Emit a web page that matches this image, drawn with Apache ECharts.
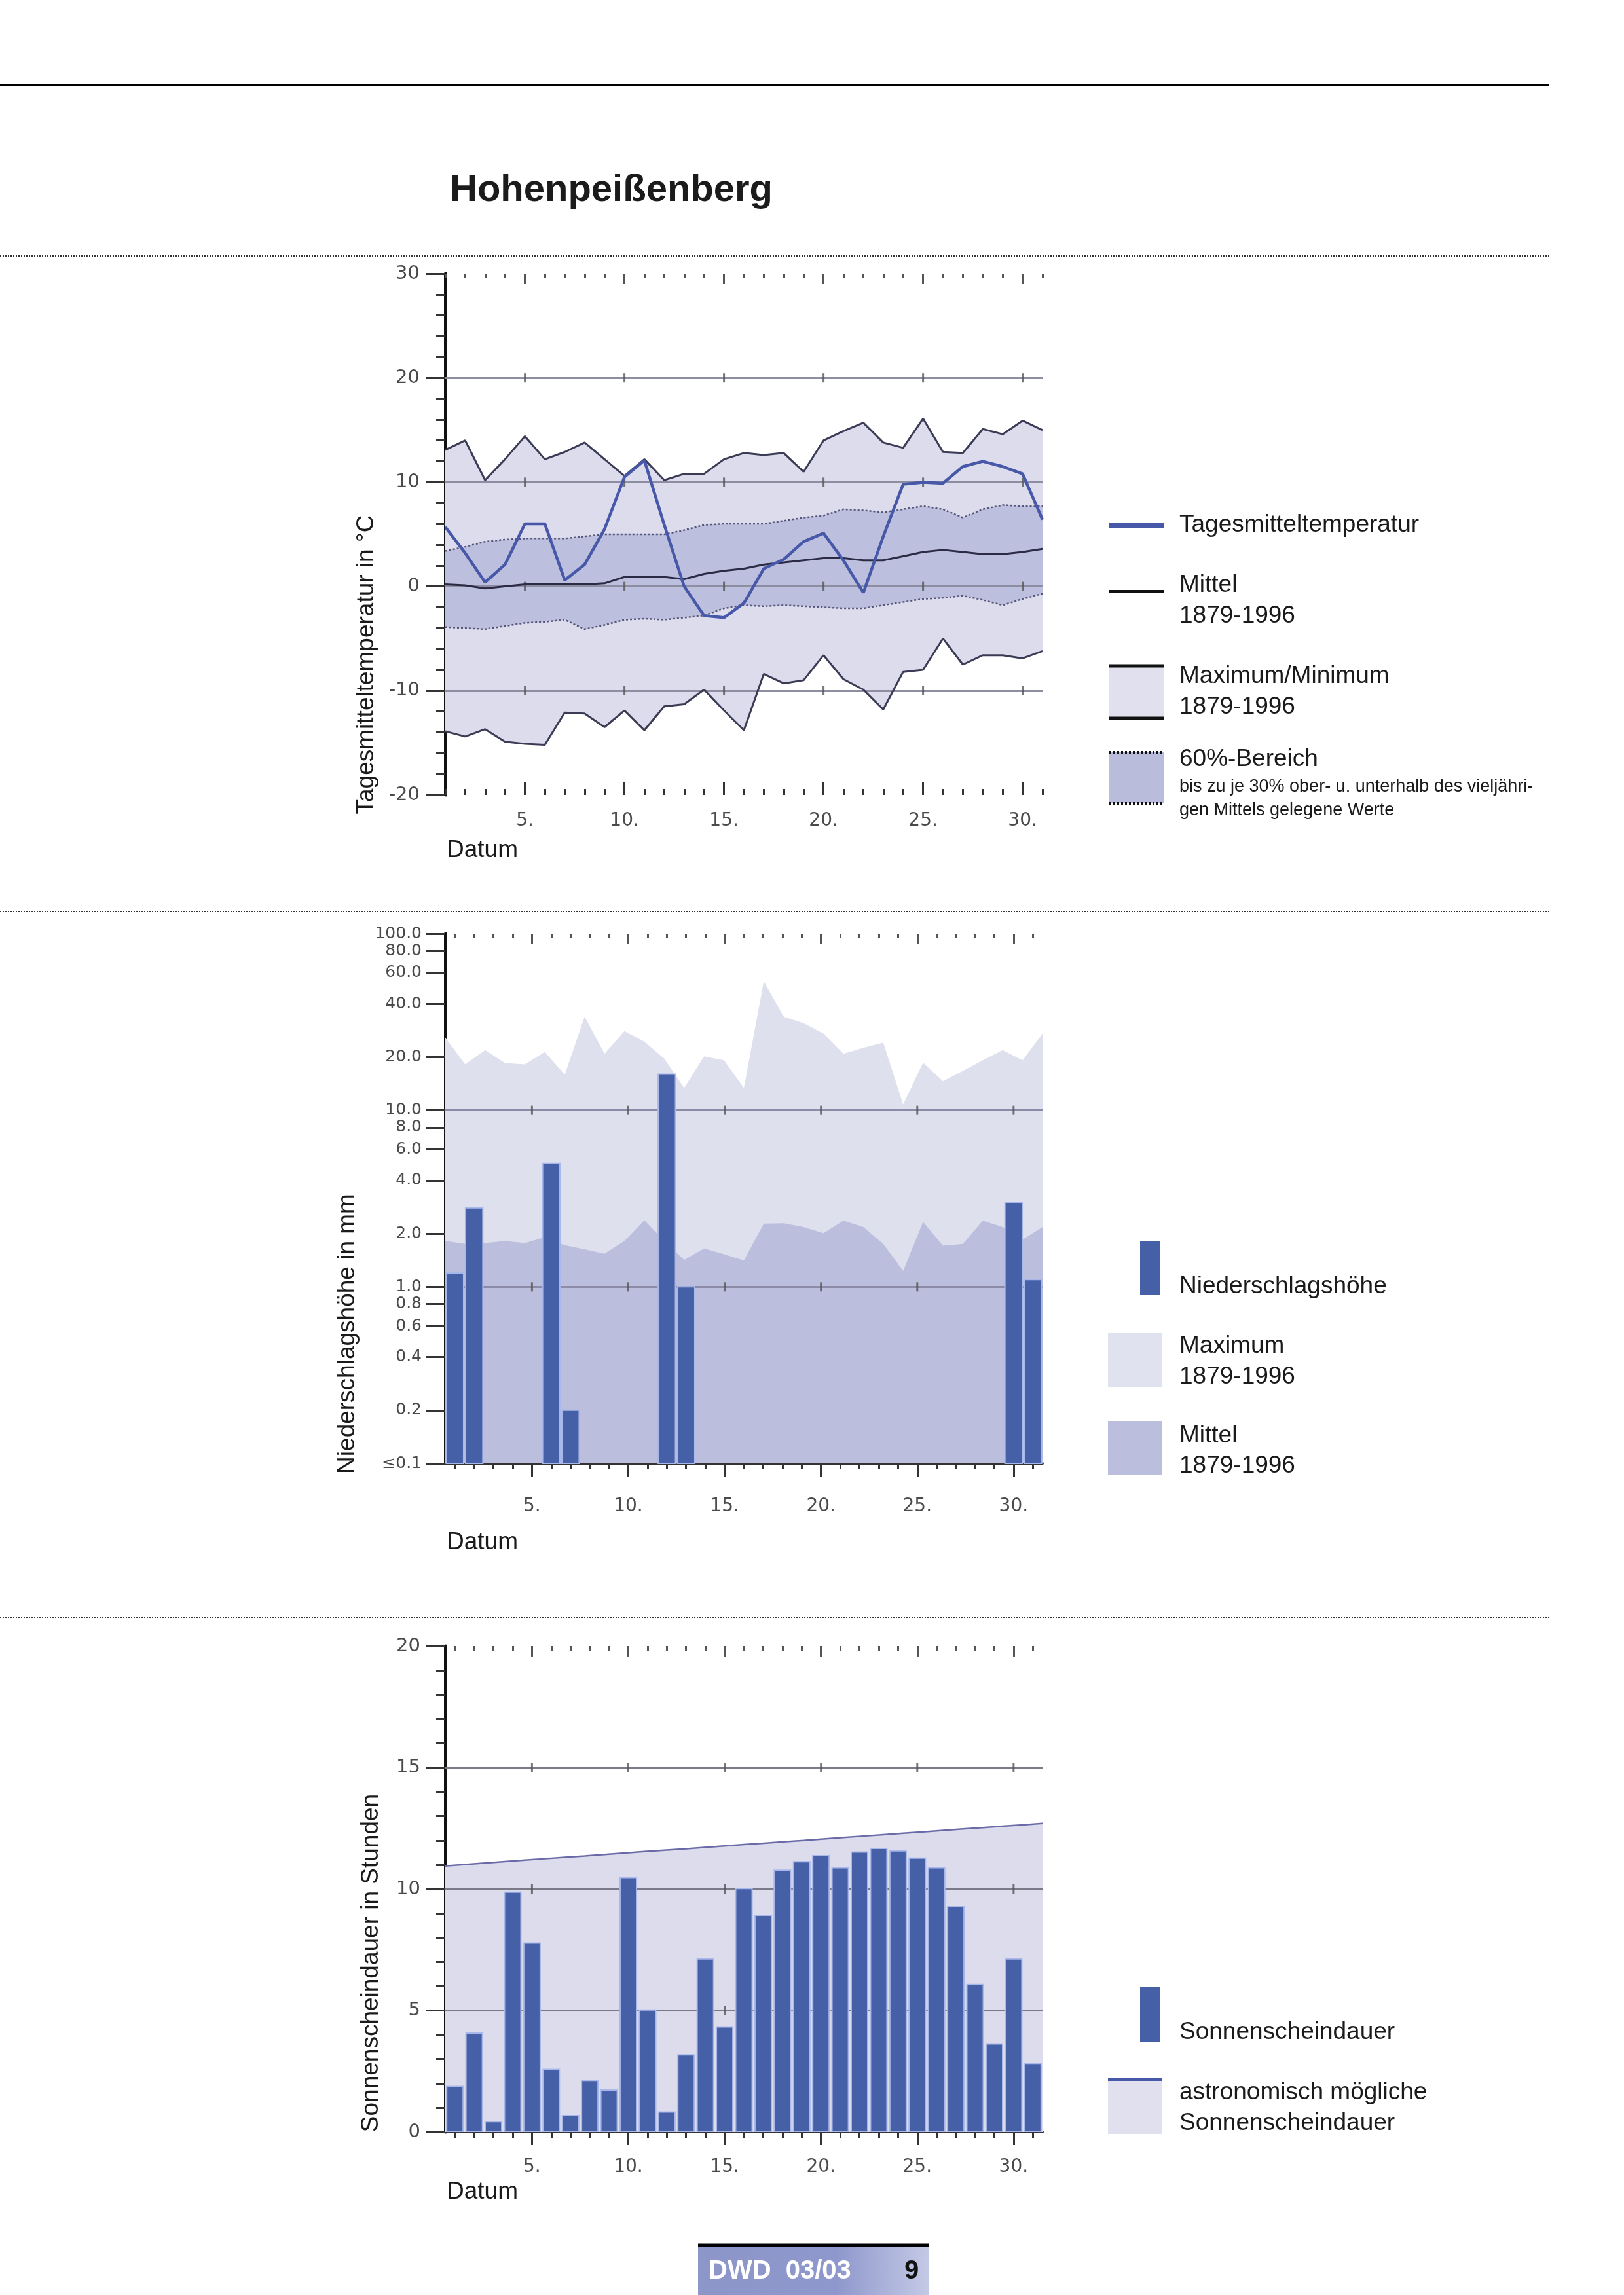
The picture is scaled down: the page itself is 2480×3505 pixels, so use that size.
<!DOCTYPE html>
<html>
<head>
<meta charset="utf-8">
<title>Hohenpeißenberg</title>
<script src="https://cdn.jsdelivr.net/npm/echarts@6.0.0/dist/echarts.min.js"></script>
<style>
html,body{margin:0;padding:0;background:#ffffff;}
#chart{width:2480px;height:3505px;}
</style>
</head>
<body>
<div id="chart"></div>
<script>
// ---------------- data ----------------
const days = ['1','2','3','4','5','6','7','8','9','10','11','12','13','14','15','16','17','18','19','20','21','22','23','24','25','26','27','28','29','30','31'];
const dayTickLabels = ['5','10','15','20','25','30'];

// Temperature (°C)
const tempTicks = [-20, -10, 0, 10, 20, 30];
const tempGridLines = [20, 10, 0, -10];
const tempDaily = [5.7,3.2,0.4,2.1,6.0,6.0,0.6,2.1,5.5,10.5,12.1,5.9,0.0,-2.8,-3.0,-1.6,1.7,2.6,4.3,5.1,2.5,-0.6,4.8,9.8,10.0,9.9,11.5,12.0,11.5,10.8,6.4];
const tempMax   = [13.1,14.0,10.2,12.2,14.4,12.2,12.9,13.8,12.2,10.6,12.2,10.2,10.8,10.8,12.2,12.8,12.6,12.8,11.0,14.0,14.9,15.7,13.8,13.3,16.1,12.9,12.8,15.1,14.6,15.9,15.0];
const tempMin   = [-13.9,-14.4,-13.7,-14.9,-15.1,-15.2,-12.1,-12.2,-13.5,-11.9,-13.8,-11.5,-11.3,-9.9,-11.9,-13.8,-8.4,-9.3,-9.0,-6.6,-8.9,-9.9,-11.8,-8.2,-8.0,-5.0,-7.5,-6.6,-6.6,-6.9,-6.2];
const tempMittel = [0.2,0.1,-0.2,0.0,0.2,0.2,0.2,0.2,0.3,0.9,0.9,0.9,0.7,1.2,1.5,1.7,2.1,2.3,2.5,2.7,2.7,2.5,2.5,2.9,3.3,3.5,3.3,3.1,3.1,3.3,3.6];
const tempUpper60 = [3.4,3.8,4.3,4.5,4.6,4.6,4.6,4.8,5.0,5.0,5.0,5.0,5.4,5.9,6.0,6.0,6.0,6.3,6.6,6.8,7.4,7.3,7.1,7.4,7.7,7.4,6.6,7.4,7.8,7.7,7.7];
const tempLower60 = [-3.9,-4.0,-4.1,-3.8,-3.5,-3.4,-3.2,-4.1,-3.7,-3.2,-3.1,-3.2,-3.0,-2.8,-2.1,-1.8,-1.9,-1.8,-1.9,-2.0,-2.1,-2.1,-1.8,-1.5,-1.2,-1.1,-0.9,-1.3,-1.8,-1.2,-0.7];

// Precipitation (mm)
const precipTicks = [0.1,0.2,0.4,0.6,0.8,1,2,4,6,8,10,20,40,60,80,100];
const precipGridLines = [10, 1];
const precipAmount = [1.2,2.8,null,null,null,5.0,0.2,null,null,null,null,16,1.0,null,null,null,null,null,null,null,null,null,null,null,null,null,null,null,null,3.0,1.1];
const precipMax  = [25.8,18.2,21.9,18.5,18.2,21.4,15.9,33.9,20.9,28.1,24.5,19.6,13.4,20.2,19.2,13.4,53.7,33.9,31.2,27.2,20.9,22.6,24.2,10.8,18.6,14.6,16.7,19.2,21.9,19.2,27.2];
const precipMean = [1.82,1.75,1.77,1.82,1.77,1.91,1.72,1.63,1.54,1.82,2.38,1.82,1.42,1.65,1.53,1.41,2.28,2.29,2.18,2.01,2.37,2.18,1.75,1.23,2.33,1.71,1.75,2.37,2.18,1.85,2.18];

// Sunshine (hours)
const sunTicks = [0, 5, 10, 15, 20];
const sunGridLines = [15, 10, 5];
const sunshine = [1.9,4.1,0.45,9.9,7.8,2.6,0.7,2.15,1.75,10.5,5.05,0.85,3.2,7.15,4.35,10.05,8.95,10.8,11.15,11.4,10.9,11.55,11.7,11.6,11.3,10.9,9.3,6.1,3.65,7.15,2.85];
const sunAstro = [10.95,11.01,11.07,11.13,11.19,11.25,11.31,11.36,11.42,11.48,11.54,11.6,11.65,11.71,11.77,11.83,11.89,11.95,12.0,12.06,12.12,12.18,12.24,12.3,12.35,12.41,12.47,12.53,12.59,12.64,12.7];

// ---------------- styling ----------------
const TXT = 'Liberation Sans, Arial, Helvetica, sans-serif';
const TICKF = 'DejaVu Sans, Liberation Sans, sans-serif';
const LBL = '#4a4a4a';
const BAR = '#4560a6';
const BAR_EDGE = '#a9b8ea';
const LIGHT = '#dcdcec';
const MID = '#bcbfdd';

const isMajor = (i, v) => dayTickLabels.indexOf(String(v)) >= 0;

function dayAxes(grid, gap, bottomInside, lineShown, labelMargin) {
  const base = {type: 'category', gridIndex: grid, data: days, boundaryGap: gap,
    splitLine: {show: false}, axisLine: {show: false, onZero: false}, axisLabel: {show: false}};
  return [
    Object.assign({}, base, {position: 'bottom',
      axisLine: {show: lineShown, onZero: false, lineStyle: {color: '#333', width: 4}},
      axisTick: {show: true, inside: bottomInside, length: 20, alignWithLabel: true, interval: isMajor, lineStyle: {color: '#333', width: 3}},
      axisLabel: {show: true, interval: isMajor, formatter: v => v + '.', margin: labelMargin, fontSize: 28, fontFamily: TICKF, color: LBL}}),
    Object.assign({}, base, {position: 'bottom',
      axisTick: {show: true, inside: bottomInside, length: 9, alignWithLabel: true, interval: 0, lineStyle: {color: '#333', width: 3}}}),
    Object.assign({}, base, {position: 'top',
      axisTick: {show: true, inside: true, length: 16, alignWithLabel: true, interval: isMajor, lineStyle: {color: '#555', width: 3}}}),
    Object.assign({}, base, {position: 'top',
      axisTick: {show: true, inside: true, length: 7, alignWithLabel: true, interval: 0, lineStyle: {color: '#555', width: 3}}})
  ];
}

const xAxes = [].concat(
  dayAxes(0, false, true, false, 26),
  dayAxes(1, true, false, true, 52),
  [{type: 'category', gridIndex: 1, data: days, boundaryGap: false, show: false, axisLine: {onZero: false}}],
  dayAxes(2, true, false, true, 40),
  [{type: 'category', gridIndex: 2, data: days, boundaryGap: false, show: false, axisLine: {onZero: false}}]
);
// indices: grid0 -> 0..3 ; grid1 -> 4..7, area 8 ; grid2 -> 9..12, area 13

const yLine = {show: true, onZero: false, lineStyle: {color: '#111', width: 5}};
const yAxes = [
  {type: 'value', gridIndex: 0, min: -20, max: 30, interval: 10,
    axisLine: yLine,
    axisTick: {show: true, length: 30, lineStyle: {color: '#333', width: 3}},
    minorTick: {show: true, splitNumber: 5, length: 14, lineStyle: {color: '#333', width: 3}},
    axisLabel: {margin: 39, fontSize: 29, fontFamily: TICKF, color: LBL},
    splitLine: {show: false}},
  {type: 'log', gridIndex: 1, min: 0.1, max: 100, logBase: 10,
    axisLine: yLine,
    axisTick: {show: true, length: 30, customValues: precipTicks, lineStyle: {color: '#333', width: 3}},
    minorTick: {show: false},
    axisLabel: {margin: 36, fontSize: 25, fontFamily: TICKF, color: LBL, customValues: precipTicks,
      formatter: v => (v < 0.15 ? '\u22640.1' : Number(v).toFixed(1))},
    splitLine: {show: false}},
  {type: 'value', gridIndex: 2, min: 0, max: 20, interval: 5,
    axisLine: yLine,
    axisTick: {show: true, length: 30, lineStyle: {color: '#333', width: 3}},
    minorTick: {show: true, splitNumber: 5, length: 14, lineStyle: {color: '#333', width: 3}},
    axisLabel: {margin: 38, fontSize: 29, fontFamily: TICKF, color: LBL},
    splitLine: {show: false}}
];

const diff = (a, b) => a.map((v, i) => +(v - b[i]).toFixed(2));
const crossData = (lines) => lines.reduce((acc, g) => acc.concat(dayTickLabels.map(d => [d, g])), []);
const gridMarkLine = (lines, color) => ({
  silent: true, symbol: 'none', label: {show: false},
  lineStyle: {color: color, width: 3, type: 'solid'},
  data: lines.map(g => ({yAxis: g}))
});
const hidden = {opacity: 0};

const series = [
  // ---- chart 1: temperature ----
  {type: 'line', name: 'minBase', xAxisIndex: 0, yAxisIndex: 0, data: tempMin, stack: 'mm', stackStrategy: 'all',
    symbol: 'none', lineStyle: hidden, silent: true, z: 1},
  {type: 'line', name: 'Maximum/Minimum', xAxisIndex: 0, yAxisIndex: 0, data: diff(tempMax, tempMin), stack: 'mm', stackStrategy: 'all',
    symbol: 'none', lineStyle: hidden, areaStyle: {color: LIGHT, opacity: 1}, silent: true, z: 1},
  {type: 'line', name: 'low60Base', xAxisIndex: 0, yAxisIndex: 0, data: tempLower60, stack: 'b60', stackStrategy: 'all',
    symbol: 'none', lineStyle: hidden, silent: true, z: 1},
  {type: 'line', name: '60%-Bereich', xAxisIndex: 0, yAxisIndex: 0, data: diff(tempUpper60, tempLower60), stack: 'b60', stackStrategy: 'all',
    symbol: 'none', lineStyle: hidden, areaStyle: {color: MID, opacity: 1}, silent: true, z: 1,
    markLine: gridMarkLine(tempGridLines, '#8e8ea2')},
  {type: 'scatter', xAxisIndex: 0, yAxisIndex: 0, data: crossData(tempGridLines), symbol: 'rect', symbolSize: [3, 14],
    itemStyle: {color: '#555'}, silent: true, z: 5},
  {type: 'line', xAxisIndex: 0, yAxisIndex: 0, data: tempUpper60, symbol: 'none', lineStyle: {color: '#55557a', width: 2.5, type: [3, 3]}, z: 6},
  {type: 'line', xAxisIndex: 0, yAxisIndex: 0, data: tempLower60, symbol: 'none', lineStyle: {color: '#55557a', width: 2.5, type: [3, 3]}, z: 6},
  {type: 'line', name: 'Mittel', xAxisIndex: 0, yAxisIndex: 0, data: tempMittel, symbol: 'none', lineStyle: {color: '#2b2b45', width: 3}, z: 6},
  {type: 'line', name: 'Maximum', xAxisIndex: 0, yAxisIndex: 0, data: tempMax, symbol: 'none', lineStyle: {color: '#3b3b55', width: 3}, z: 6},
  {type: 'line', name: 'Minimum', xAxisIndex: 0, yAxisIndex: 0, data: tempMin, symbol: 'none', lineStyle: {color: '#3b3b55', width: 3}, z: 6},
  {type: 'line', name: 'Tagesmitteltemperatur', xAxisIndex: 0, yAxisIndex: 0, data: tempDaily, symbol: 'none', lineStyle: {color: '#4758a8', width: 4.5}, z: 7},

  // ---- chart 2: precipitation ----
  {type: 'line', name: 'Maximum', xAxisIndex: 8, yAxisIndex: 1, data: precipMax, symbol: 'none', lineStyle: hidden,
    areaStyle: {color: '#dfe0ee', opacity: 1, origin: 'start'}, silent: true, z: 1},
  {type: 'line', name: 'Mittel', xAxisIndex: 8, yAxisIndex: 1, data: precipMean, symbol: 'none', lineStyle: hidden,
    areaStyle: {color: '#bbbedc', opacity: 1, origin: 'start'}, silent: true, z: 2,
    markLine: gridMarkLine(precipGridLines, '#8c8ca8')},
  {type: 'scatter', xAxisIndex: 4, yAxisIndex: 1, data: crossData(precipGridLines), symbol: 'rect', symbolSize: [3, 14],
    itemStyle: {color: '#555'}, silent: true, z: 5},
  {type: 'custom', name: 'Niederschlagshöhe', xAxisIndex: 4, yAxisIndex: 1, z: 6,
    data: precipAmount.map((v, i) => [i, v]).filter(d => d[1] != null),
    renderItem: function (params, api) {
      const idx = api.value(0), v = api.value(1);
      const top = api.coord([idx, v]);
      const bottom = api.coord([idx, 0.1]);
      const w = api.size([1, 1])[0];
      return {type: 'rect',
        shape: {x: top[0] - w / 2 + 1.5, y: top[1], width: w - 3, height: bottom[1] - top[1]},
        style: {fill: BAR, stroke: BAR_EDGE, lineWidth: 2}};
    }},

  // ---- chart 3: sunshine ----
  {type: 'line', name: 'astronomisch mögliche Sonnenscheindauer', xAxisIndex: 13, yAxisIndex: 2, data: sunAstro, symbol: 'none',
    lineStyle: {color: '#6a6aa8', width: 2.5}, areaStyle: {color: LIGHT, opacity: 1, origin: 'start'}, silent: true, z: 1,
    markLine: gridMarkLine(sunGridLines, '#7a7a88')},
  {type: 'scatter', xAxisIndex: 9, yAxisIndex: 2, data: crossData(sunGridLines), symbol: 'rect', symbolSize: [3, 14],
    itemStyle: {color: '#555'}, silent: true, z: 5},
  {type: 'bar', name: 'Sonnenscheindauer', xAxisIndex: 9, yAxisIndex: 2, data: sunshine, barCategoryGap: '8%',
    itemStyle: {color: BAR, borderColor: BAR_EDGE, borderWidth: 2}, z: 6}
];

// ---------------- decorations / legends ----------------
function txt(x, y, s, size, extra) {
  return Object.assign({type: 'text', x: x, y: y, silent: true,
    style: {text: s, fontSize: size, fontFamily: TXT, fill: '#1a1a1a', textAlign: 'left', textVerticalAlign: 'middle'}}, extra || {});
}
function vtxt(x, y, s) {
  return {type: 'text', x: x, y: y, rotation: Math.PI / 2, silent: true,
    style: {text: s, fontSize: 37, fontFamily: TXT, fill: '#1a1a1a', textAlign: 'center', textVerticalAlign: 'middle'}};
}
function hline(x1, x2, y, w, color, dash) {
  return {type: 'line', silent: true, shape: {x1: x1, y1: y, x2: x2, y2: y},
    style: {stroke: color, lineWidth: w, lineDash: dash || null}};
}
function box(x, y, w, h, fill) {
  return {type: 'rect', silent: true, shape: {x: x, y: y, width: w, height: h}, style: {fill: fill}};
}

const graphic = [
  hline(0, 2365, 130, 4, '#000'),
  hline(0, 2365, 391, 2, '#333', [2, 2]),
  hline(0, 2365, 1392, 2, '#333', [2, 2]),
  hline(0, 2365, 2470, 2, '#333', [2, 2]),

  vtxt(560, 1015, 'Tagesmitteltemperatur in °C'),
  vtxt(531, 2037, 'Niederschlagshöhe in mm'),
  vtxt(567, 2998, 'Sonnenscheindauer in Stunden'),
  txt(682, 1299, 'Datum', 37),
  txt(682, 2356, 'Datum', 37),
  txt(682, 3348, 'Datum', 37),

  // legend chart 1
  hline(1694, 1777, 802, 8, '#4758a8'),
  txt(1801, 802, 'Tagesmitteltemperatur', 37),
  hline(1694, 1777, 903, 4, '#111'),
  txt(1801, 894, 'Mittel', 37),
  txt(1801, 941, '1879-1996', 37),
  box(1694, 1017, 83, 80, '#e0e0ee'),
  hline(1694, 1777, 1017, 5, '#111'),
  hline(1694, 1777, 1097, 5, '#111'),
  txt(1801, 1033, 'Maximum/Minimum', 37),
  txt(1801, 1080, '1879-1996', 37),
  box(1694, 1149, 83, 78, '#b9bcdb'),
  hline(1694, 1777, 1149, 4, '#111', [3, 3]),
  hline(1694, 1777, 1227, 4, '#111', [3, 3]),
  txt(1801, 1160, '60%-Bereich', 37),
  txt(1801, 1202, 'bis zu je 30% ober- u. unterhalb des vieljähri-', 27),
  txt(1801, 1238, 'gen Mittels gelegene Werte', 27),

  // legend chart 2
  box(1741, 1895, 31, 83, BAR),
  txt(1801, 1965, 'Niederschlagshöhe', 37),
  box(1692, 2036, 83, 83, '#e1e2ef'),
  txt(1801, 2056, 'Maximum', 37),
  txt(1801, 2103, '1879-1996', 37),
  box(1692, 2170, 83, 83, '#bbbedc'),
  txt(1801, 2193, 'Mittel', 37),
  txt(1801, 2239, '1879-1996', 37),

  // legend chart 3
  box(1741, 3035, 31, 83, BAR),
  txt(1801, 3104, 'Sonnenscheindauer', 37),
  box(1692, 3174, 83, 85, '#e0e0ee'),
  hline(1692, 1775, 3176, 4, '#4758a8'),
  txt(1801, 3196, 'astronomisch mögliche', 37),
  txt(1801, 3243, 'Sonnenscheindauer', 37),

  // footer
  {type: 'rect', silent: true, shape: {x: 1066, y: 3427, width: 353, height: 78},
    style: {fill: new echarts.graphic.LinearGradient(0, 0, 1, 0, [
      {offset: 0, color: '#8d96c9'}, {offset: 0.6, color: '#8f98cc'}, {offset: 1, color: '#c4c9e6'}])}},
  hline(1066, 1419, 3429, 5, '#000'),
  txt(1082, 3469, 'DWD  03/03', 40, {style: {text: 'DWD  03/03', fontSize: 40, fontWeight: 'bold', fontFamily: TXT, fill: '#ffffff', textAlign: 'left', textVerticalAlign: 'middle'}}),
  txt(1381, 3469, '9', 40, {style: {text: '9', fontSize: 40, fontWeight: 'bold', fontFamily: TXT, fill: '#111', textAlign: 'left', textVerticalAlign: 'middle'}})
];

const chart = echarts.init(document.getElementById('chart'), null, {renderer: 'canvas', width: 2480, height: 3505});
chart.setOption({
  backgroundColor: '#ffffff',
  animation: false,
  title: {text: 'Hohenpeißenberg', left: 682, top: 257,
    textStyle: {fontSize: 58, fontWeight: 'bold', fontFamily: TXT, color: '#1b1b1b'}},
  grid: [
    {left: 680, top: 418, width: 912, height: 796, containLabel: false, outerBoundsMode: 'none'},
    {left: 680, top: 1426, width: 912, height: 809, containLabel: false, outerBoundsMode: 'none'},
    {left: 680, top: 2514, width: 912, height: 742, containLabel: false, outerBoundsMode: 'none'}
  ],
  xAxis: xAxes,
  yAxis: yAxes,
  series: series,
  graphic: graphic
});
</script>
</body>
</html>
